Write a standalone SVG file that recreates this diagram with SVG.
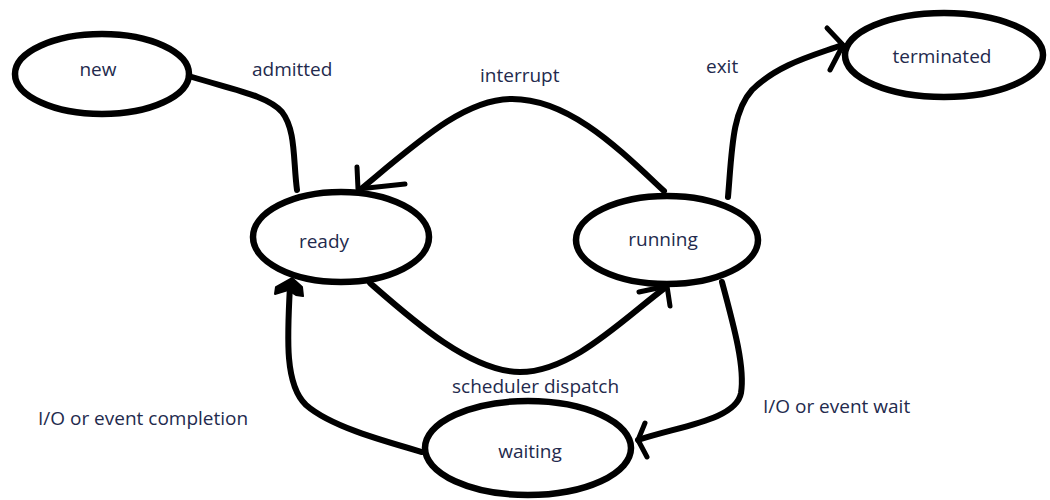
<svg xmlns="http://www.w3.org/2000/svg" width="1050" height="500" viewBox="0 0 1050 500">
  <style>
    .state { fill: #ffffff; stroke: #000000; stroke-width: 6.5; }
    .edge { fill: none; stroke: #000000; stroke-width: 6; stroke-linecap: round; stroke-linejoin: round; }
    .head { fill: none; stroke: #000000; stroke-width: 5; stroke-linecap: round; stroke-linejoin: round; }
    .headfill { fill: #000000; stroke: #000000; stroke-width: 2; stroke-linejoin: round; }
    text { font-family: "Open Sans", "Liberation Sans", sans-serif; font-size: 19px; fill: #232a4d; }
  </style>
  <rect width="1050" height="500" fill="#ffffff"/>

  <!-- states -->
  <g id="new">
    <ellipse class="state" cx="102" cy="74" rx="87" ry="40"/>
    <text x="98" y="76" text-anchor="middle">new</text>
  </g>
  <g id="ready">
    <ellipse class="state" cx="341" cy="237" rx="88" ry="45"/>
    <text x="324" y="248" text-anchor="middle">ready</text>
  </g>
  <g id="running">
    <ellipse class="state" cx="667" cy="240" rx="91" ry="44"/>
    <text x="663" y="246" text-anchor="middle">running</text>
  </g>
  <g id="terminated">
    <ellipse class="state" cx="944" cy="55" rx="99" ry="42"/>
    <text x="942" y="63" text-anchor="middle">terminated</text>
  </g>
  <g id="waiting">
    <ellipse class="state" cx="528" cy="448" rx="103" ry="47"/>
    <text x="530" y="458" text-anchor="middle">waiting</text>
  </g>

  <!-- transitions -->
  <g id="connectors">
    <!-- admitted: new -> ready -->
    <path class="edge" d="M192,77 C235,90 268,96 282,112 C296,130 293,160 297,190"/>

    <!-- interrupt: running -> ready -->
    <path class="edge" d="M664,191 C620,150 570,99 512,99 C465,99 420,140 361,189"/>
    <path class="head" d="M357,167 L358,189 L405,184"/>

    <!-- scheduler dispatch: ready -> running -->
    <path class="edge" d="M370,283 C410,318 470,372 520,372 C572,372 622,320 666,287"/>
    <path class="head" d="M639,292 L667,286 L670,306"/>

    <!-- exit: running -> terminated -->
    <path class="edge" d="M728,197 C732,150 732,112 752,90 C778,64 815,55 842,45"/>
    <path class="head" d="M827,28 L843,45 L830,70"/>

    <!-- I/O or event wait: running -> waiting -->
    <path class="edge" d="M722,282 C735,330 745,368 741,393 C736,420 680,426 638,440"/>
    <path class="head" d="M645,423 L638,440 L647,457"/>

    <!-- I/O or event completion: waiting -> ready -->
    <path class="edge" d="M422,452 C380,440 330,426 306,405 C285,385 287,340 290,286"/>
    <path class="headfill" d="M292,278 L276,287 L275,294 L288,290 L296,295 L303,296 L302,287 Z"/>
  </g>

  <!-- transition labels -->
  <g id="labels">
    <text x="252" y="76">admitted</text>
    <text x="480" y="82">interrupt</text>
    <text x="706" y="73">exit</text>
    <text x="452" y="393">scheduler dispatch</text>
    <text x="38" y="425">I/O or event completion</text>
    <text x="763" y="413">I/O or event wait</text>
  </g>
</svg>
